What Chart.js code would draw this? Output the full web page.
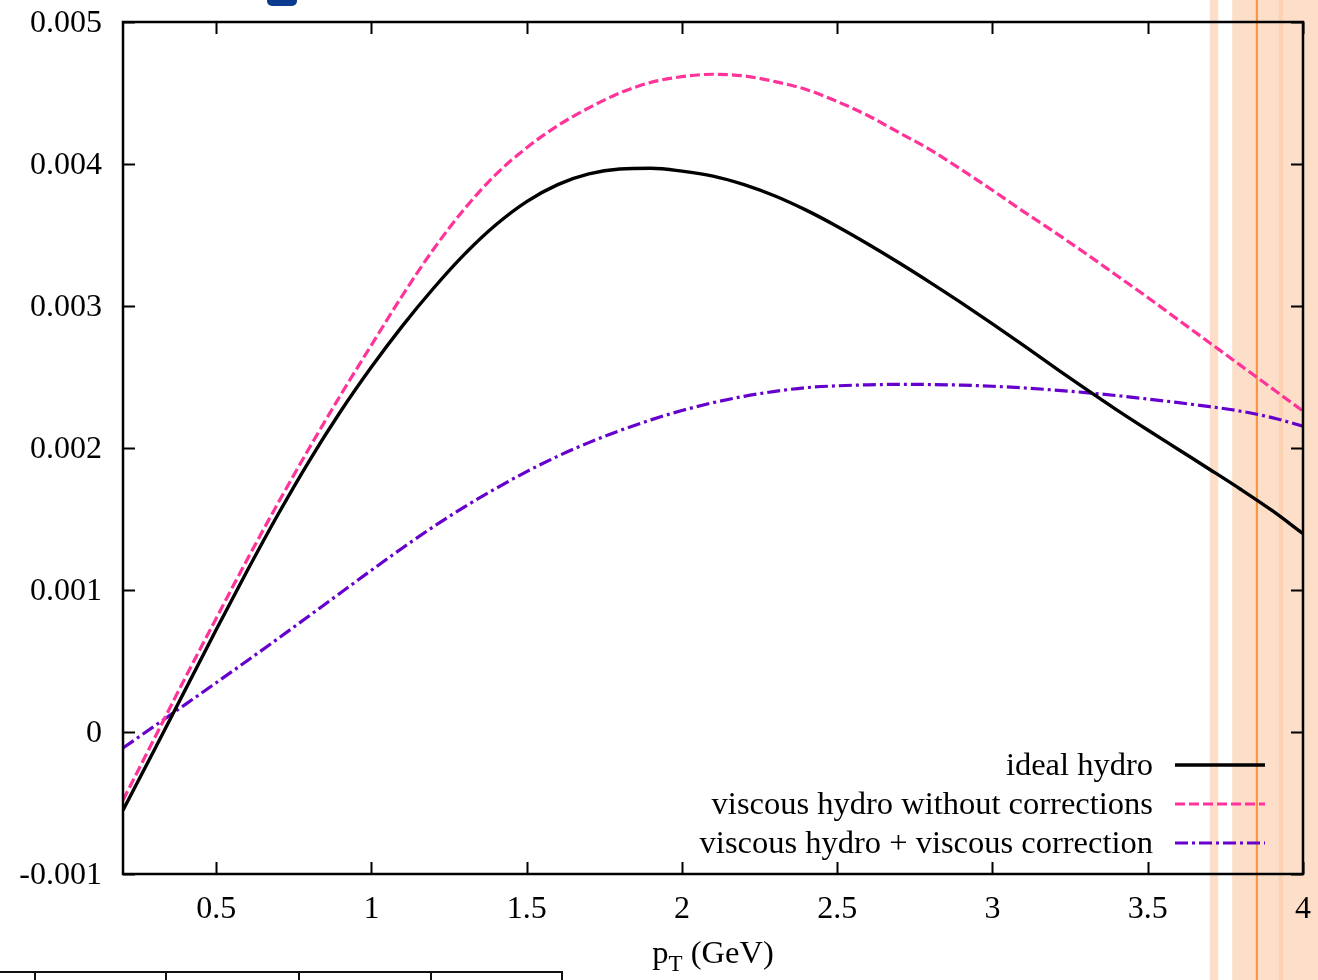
<!DOCTYPE html>
<html lang="en">
<head>
    <meta charset="UTF-8">
    <title>v2 vs pT: ideal and viscous hydro</title>
    <script src="https://cdn.jsdelivr.net/npm/chart.js@4.4.1/dist/chart.umd.min.js"></script>
    <style>
        body {
            margin: 0;
            padding: 0;
            background: #ffffff;
            font-family: "Liberation Serif", "DejaVu Serif", serif;
        }
        #chartContainer {
            position: relative;
            width: 1318px;
            height: 980px;
        }
        /* cropped bits of the neighbouring figure */
        #topMark {
            position: absolute;
            left: 267px;
            top: -6px;
            width: 30px;
            height: 12px;
            background: #0b3a8f;
            border-radius: 5px;
        }
        #tableEdge {
            position: absolute;
            left: 0;
            top: 971px;
            width: 563px;
            height: 12px;
            border-top: 2px solid #111;
        }
        #tableEdge span {
            position: absolute;
            top: 0;
            width: 2px;
            height: 12px;
            background: #111;
        }
    </style>
</head>
<body>
<div id="chartContainer">
    <canvas id="v2Chart" width="1318" height="980"></canvas>
    <div id="topMark"></div>
    <div id="tableEdge">
        <span style="left:34px"></span><span style="left:165px"></span><span style="left:298px"></span>
        <span style="left:430px"></span><span style="left:561px"></span>
    </div>
</div>

<script>
// pT grid (GeV)
const pT = [0.2, 0.3, 0.4, 0.5, 0.6, 0.7, 0.8, 0.9, 1.0, 1.1, 1.2, 1.3, 1.4, 1.5, 1.6, 1.7, 1.8, 1.9, 2.0,
            2.1, 2.2, 2.3, 2.4, 2.5, 2.6, 2.7, 2.8, 2.9, 3.0, 3.1, 3.2, 3.3, 3.4, 3.5, 3.6, 3.7, 3.8, 3.9, 4.0];

const idealHydro = [-0.000550, -0.000130, 0.000295, 0.000720, 0.001135, 0.001535, 0.001910, 0.002255, 0.002570,
                    0.002860, 0.003125, 0.003365, 0.003570, 0.003735, 0.003855, 0.003930, 0.003965, 0.003970,
                    0.003950, 0.003915, 0.003855, 0.003775, 0.003675, 0.003560, 0.003435, 0.003303, 0.003165,
                    0.003022, 0.002874, 0.002722, 0.002568, 0.002416, 0.002269, 0.002127, 0.001988, 0.001849,
                    0.001708, 0.001560, 0.001397];

const viscousNoCorr = [-0.000480, -0.000050, 0.000380, 0.000800, 0.001215, 0.001615, 0.002000, 0.002370, 0.002725,
                       0.003075, 0.003400, 0.003685, 0.003925, 0.004115, 0.004270, 0.004395, 0.004500, 0.004575,
                       0.004615, 0.004632, 0.004620, 0.004580, 0.004525, 0.004440, 0.004340, 0.004220, 0.004100,
                       0.003960, 0.003815, 0.003665, 0.003520, 0.003370, 0.003215, 0.003060, 0.002900, 0.002740,
                       0.002580, 0.002420, 0.002260];

const viscousCorr = [-0.000113, 0.000040, 0.000193, 0.000347, 0.000502, 0.000659, 0.000819, 0.000979, 0.001139,
                     0.001296, 0.001446, 0.001586, 0.001714, 0.001834, 0.001942, 0.002038, 0.002123, 0.002198,
                     0.002264, 0.002319, 0.002364, 0.002399, 0.002425, 0.002438, 0.002445, 0.002448, 0.002447,
                     0.002443, 0.002435, 0.002423, 0.002408, 0.002390, 0.002369, 0.002345, 0.002319, 0.002291,
                     0.002259, 0.002214, 0.002154];

const seriesLabels = ['ideal hydro', 'viscous hydro without corrections', 'viscous hydro + viscous correction'];

const xTicks = [0.5, 1, 1.5, 2, 2.5, 3, 3.5, 4];
const xTickLabels = ['0.5', '1', '1.5', '2', '2.5', '3', '3.5', '4'];
const yTicks = [-0.001, 0, 0.001, 0.002, 0.003, 0.004, 0.005];
const yTickLabels = ['-0.001', '0', '0.001', '0.002', '0.003', '0.004', '0.005'];

// shaded highlight strips on the right (pT ranges)
const bands = [
    { from: 3.700, to: 3.727, color: '#fddfc9' },
    { from: 3.772, to: 4.060, color: '#fddfc9' },
    { from: 3.922, to: 3.936, color: '#fbd3b3' },
    { from: 3.848, to: 3.855, color: '#f7963f' }
];

const SERIF = '"Liberation Serif", "DejaVu Serif", serif';

function toPoints(ys) {
    return pT.map((x, i) => ({ x: x, y: ys[i] }));
}

const bandPlugin = {
    id: 'bands',
    beforeDraw(chart) {
        const ctx = chart.ctx;
        const xs = chart.scales.x;
        ctx.save();
        ctx.fillStyle = '#ffffff';
        ctx.fillRect(0, 0, chart.width, chart.height);
        bands.forEach(b => {
            const x1 = xs.getPixelForValue(b.from);
            const x2 = xs.getPixelForValue(b.to);
            ctx.fillStyle = b.color;
            ctx.fillRect(x1, 0, x2 - x1, chart.height);
        });
        ctx.restore();
    }
};

// gnuplot style frame: box border with inward ticks on all four sides
const framePlugin = {
    id: 'frame',
    afterDraw(chart) {
        const ctx = chart.ctx;
        const a = chart.chartArea;
        const xs = chart.scales.x;
        const ys = chart.scales.y;
        const tl = 12;
        ctx.save();
        ctx.strokeStyle = '#000';
        ctx.lineWidth = 2;
        ctx.beginPath();
        xTicks.forEach(v => {
            const px = Math.round(xs.getPixelForValue(v)) + 0.5;
            ctx.moveTo(px, a.bottom); ctx.lineTo(px, a.bottom - tl);
            ctx.moveTo(px, a.top); ctx.lineTo(px, a.top + tl);
        });
        yTicks.forEach(v => {
            const py = Math.round(ys.getPixelForValue(v)) + 0.5;
            ctx.moveTo(a.left, py); ctx.lineTo(a.left + tl, py);
            ctx.moveTo(a.right, py); ctx.lineTo(a.right - tl, py);
        });
        ctx.stroke();
        ctx.lineWidth = 2.5;
        ctx.strokeRect(a.left, a.top, a.right - a.left, a.bottom - a.top);

        // axis title p_T (GeV)
        const cx = (a.left + a.right) / 2;
        const by = a.bottom + 89;
        ctx.fillStyle = '#000';
        ctx.textBaseline = 'alphabetic';
        ctx.textAlign = 'left';
        ctx.font = '32.5px ' + SERIF;
        const wp = ctx.measureText('p').width;
        const wr = ctx.measureText(' (GeV)').width;
        ctx.font = '23px ' + SERIF;
        const wt = ctx.measureText('T').width;
        let x0 = cx - (wp + wt + wr) / 2;
        ctx.font = '32.5px ' + SERIF;
        ctx.fillText('p', x0, by);
        ctx.font = '23px ' + SERIF;
        ctx.fillText('T', x0 + wp, by + 8);
        ctx.font = '32.5px ' + SERIF;
        ctx.fillText(' (GeV)', x0 + wp + wt, by);

        // key, bottom right inside the frame
        const lineEnd = a.right - 38;
        const lineStart = lineEnd - 90;
        const textRight = lineStart - 22;
        chart.data.datasets.forEach((ds, i) => {
            const y = a.bottom - 109 + i * 39;
            ctx.font = '32.5px ' + SERIF;
            ctx.textAlign = 'right';
            ctx.textBaseline = 'middle';
            ctx.fillStyle = '#000';
            ctx.fillText(ds.label, textRight, y + 1);
            ctx.strokeStyle = ds.borderColor;
            ctx.lineWidth = ds.borderWidth;
            ctx.setLineDash(ds.borderDash || []);
            ctx.beginPath();
            ctx.moveTo(lineStart, y);
            ctx.lineTo(lineEnd, y);
            ctx.stroke();
            ctx.setLineDash([]);
        });
        ctx.restore();
    }
};

const config = {
    type: 'line',
    data: {
        datasets: [
            {
                label: seriesLabels[0],
                data: toPoints(idealHydro),
                borderColor: '#000000',
                borderWidth: 3.4
            },
            {
                label: seriesLabels[1],
                data: toPoints(viscousNoCorr),
                borderColor: '#ff3399',
                borderWidth: 3.2,
                borderDash: [10, 4]
            },
            {
                label: seriesLabels[2],
                data: toPoints(viscousCorr),
                borderColor: '#6600cc',
                borderWidth: 3.2,
                borderDash: [13, 4, 3, 4]
            }
        ]
    },
    options: {
        responsive: false,
        animation: false,
        layout: { padding: { top: 22, right: 15, left: 0, bottom: 0 } },
        elements: {
            point: { radius: 0 },
            line: { cubicInterpolationMode: 'monotone', fill: false }
        },
        plugins: {
            legend: { display: false },
            tooltip: { enabled: false }
        },
        scales: {
            x: {
                type: 'linear',
                min: 0.2,
                max: 4,
                afterBuildTicks: (s) => { s.ticks = xTicks.map(v => ({ value: v })); },
                afterFit: (s) => {
                    s.height = 106;
                    s.paddingLeft = 0;
                    s.paddingRight = 0;
                },
                grid: { display: false, drawTicks: false },
                border: { display: false },
                ticks: {
                    color: '#000',
                    padding: 16,
                    maxRotation: 0,
                    font: { family: SERIF, size: 32 },
                    callback: (v, i) => xTickLabels[i]
                }
            },
            y: {
                type: 'linear',
                min: -0.001,
                max: 0.005,
                afterBuildTicks: (s) => { s.ticks = yTicks.map(v => ({ value: v })); },
                afterFit: (s) => {
                    s.width = 123;
                    s.paddingTop = 0;
                    s.paddingBottom = 0;
                },
                grid: { display: false, drawTicks: false },
                border: { display: false },
                ticks: {
                    color: '#000',
                    padding: 21,
                    labelOffset: 2,
                    font: { family: SERIF, size: 32 },
                    callback: (v, i) => yTickLabels[i]
                }
            }
        }
    },
    plugins: [bandPlugin, framePlugin]
};

new Chart(document.getElementById('v2Chart').getContext('2d'), config);
</script>
</body>
</html>
